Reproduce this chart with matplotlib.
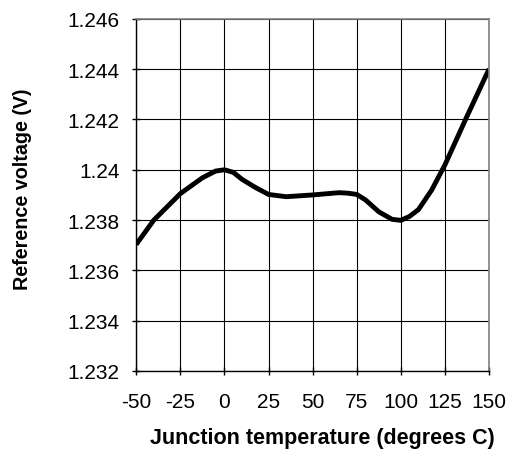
import numpy as np
import matplotlib.pyplot as plt

plt.rcParams['font.family'] = ['Liberation Sans', 'DejaVu Sans']
plt.rcParams['axes.unicode_minus'] = False

# values
temp_c = [-50, -40, -25, -12.5, -5, 0, 5, 10, 17.5, 25, 35, 50, 65, 70, 75,
          80, 87.5, 95, 100, 105, 110, 117.5, 125, 137.5, 150]
vref = [1.23703, 1.23800, 1.23905, 1.23968, 1.23995, 1.24000, 1.23990, 1.23962,
        1.23930, 1.23902, 1.23893, 1.23900, 1.23909, 1.23907, 1.23902,
        1.23880, 1.23833, 1.23803, 1.23799, 1.23815, 1.23842, 1.23920,
        1.24020, 1.24213, 1.24401]

xticks = [-50, -25, 0, 25, 50, 75, 100, 125, 150]
yticks = [1.232, 1.234, 1.236, 1.238, 1.24, 1.242, 1.244, 1.246]
ytick_labels = ['1.232', '1.234', '1.236', '1.238', '1.24', '1.242', '1.244', '1.246']

fig = plt.figure(figsize=(5.1, 4.52), dpi=100)
ax = fig.add_axes([0.267, 0.177, 0.692, 0.779])

ax.plot(temp_c, vref, color='black', lw=3.5, solid_joinstyle='round',
        solid_capstyle='butt')

ax.set_xlim(-50, 150)
ax.set_ylim(1.232, 1.246)
ax.set_xticks(xticks)
ax.set_yticks(yticks)
ax.set_yticklabels(ytick_labels)
ax.grid(True, color='black', lw=0.8)
ax.set_axisbelow(True)

for side in ['top', 'right']:
    ax.spines[side].set_color('#808080')
    ax.spines[side].set_linewidth(1.2)
for side in ['left', 'bottom']:
    ax.spines[side].set_color('black')
    ax.spines[side].set_linewidth(1.0)

ax.tick_params(direction='inout', length=6, width=1, labelsize=15)
ax.tick_params(axis='y', pad=9)
ax.tick_params(axis='x', pad=12)

ax.set_xlabel('Junction temperature (degrees C)', fontsize=15.5, fontweight='bold',
              labelpad=12)
ax.xaxis.label.set_x(0.527)
ax.set_ylabel('Reference voltage (V)', fontsize=14.2, fontweight='bold')
ax.yaxis.set_label_coords(-104 / 353, 0.52)

fig.savefig('out.png', dpi=100)
